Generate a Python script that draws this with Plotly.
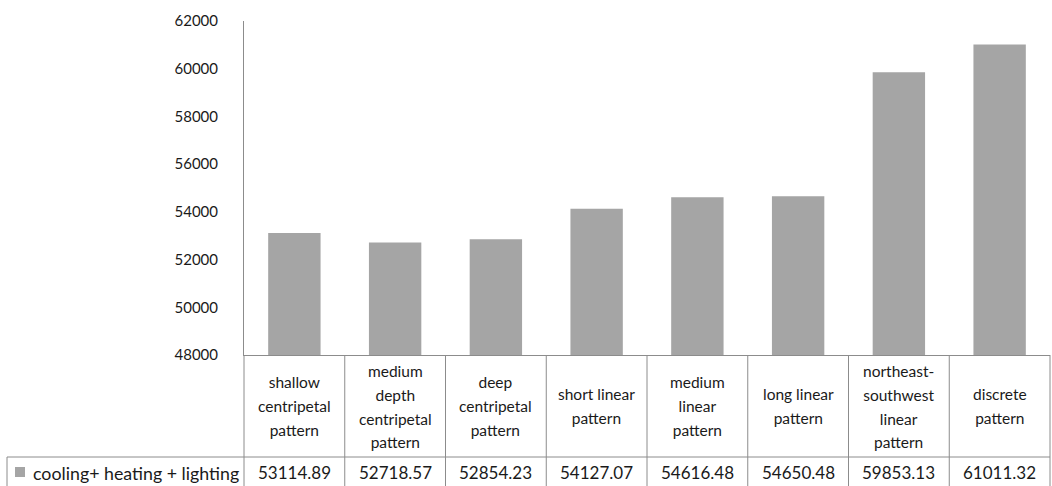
import plotly.graph_objects as go

# Categories (line breaks as shown in the table header cells)
categories = [
    "shallow<br>centripetal<br>pattern",
    "medium<br>depth<br>centripetal<br>pattern",
    "deep<br>centripetal<br>pattern",
    "short linear<br>pattern",
    "medium<br>linear<br>pattern",
    "long linear<br>pattern",
    "northeast-<br>southwest<br>linear<br>pattern",
    "discrete<br>pattern",
]
series_name = "cooling+ heating + lighting"
values = [53114.89, 52718.57, 52854.23, 54127.07, 54616.48, 54650.48, 59853.13, 61011.32]
y_ticks = [48000, 50000, 52000, 54000, 56000, 58000, 60000, 62000]

W, H = 1052, 486
L, R, T, B = 244, 2, 21, 131
PW, PH = W - L - R, H - T - B

BAR = "#a5a5a5"
GRID = "#8c8c8c"
TXT = "#1a1a1a"
FONT = "Lato, 'Open Sans', sans-serif"


def px_x(px):
    return (px - L) / PW


def px_y(py):
    return (H - B - py) / PH


n = len(categories)
xs = list(range(n))

fig = go.Figure(
    go.Bar(x=xs, y=values, marker=dict(color=BAR, line=dict(width=0)), name=series_name)
)

shapes = []
line = dict(color=GRID, width=1)
row1_bottom = 457
table_bottom = 492
# vertical column separators through the data table
for k in range(n + 1):
    xp = k / n
    shapes.append(dict(type="line", xref="paper", yref="paper",
                       x0=xp, x1=xp, y0=px_y(H - B), y1=px_y(table_bottom), line=line))
# horizontal line between header row and value row
shapes.append(dict(type="line", xref="paper", yref="paper",
                   x0=px_x(7), x1=1, y0=px_y(row1_bottom), y1=px_y(row1_bottom), line=line))
# legend cell left border
shapes.append(dict(type="line", xref="paper", yref="paper",
                   x0=px_x(7), x1=px_x(7), y0=px_y(row1_bottom), y1=px_y(table_bottom), line=line))
# legend key
shapes.append(dict(type="rect", xref="paper", yref="paper",
                   x0=px_x(15), x1=px_x(25), y0=px_y(467), y1=px_y(477),
                   fillcolor=BAR, line=dict(width=0)))

annotations = []
for i, c in enumerate(categories):
    annotations.append(dict(
        x=i, xref="x", y=px_y(406), yref="paper",
        text=f'<span style="font-size:15.5px">{c}</span>',
        showarrow=False, xanchor="center", yanchor="middle", align="center",
        font=dict(family=FONT, size=18.3, color=TXT),
    ))
for i, v in enumerate(values):
    annotations.append(dict(
        x=i, xref="x", y=px_y(472.5), yref="paper",
        text=f"{v:.2f}", showarrow=False, xanchor="center", yanchor="middle",
        font=dict(family=FONT, size=17, color=TXT),
    ))
annotations.append(dict(
    x=px_x(31), xref="paper", y=px_y(472.5), yref="paper",
    text=series_name, showarrow=False, xanchor="left", yanchor="middle",
    font=dict(family=FONT, size=17.8, color=TXT),
))

fig.update_layout(
    width=W, height=H,
    margin=dict(l=L, r=R, t=T, b=B, pad=0),
    paper_bgcolor="white", plot_bgcolor="white",
    showlegend=False,
    bargap=0.48,
    font=dict(family=FONT, color=TXT),
    xaxis=dict(range=[-0.5, n - 0.5], showticklabels=False, ticks="",
               showgrid=False, zeroline=False, showline=True, linecolor=GRID, linewidth=1),
    yaxis=dict(range=[48000, 62000], tickvals=y_ticks, ticktext=[str(t) for t in y_ticks],
               showgrid=False, zeroline=False, showline=True, linecolor=GRID, linewidth=1,
               ticks="", ticklabelstandoff=22, tickfont=dict(family=FONT, size=15, color=TXT)),
    shapes=shapes,
    annotations=annotations,
)

fig.write_html("out.html")
